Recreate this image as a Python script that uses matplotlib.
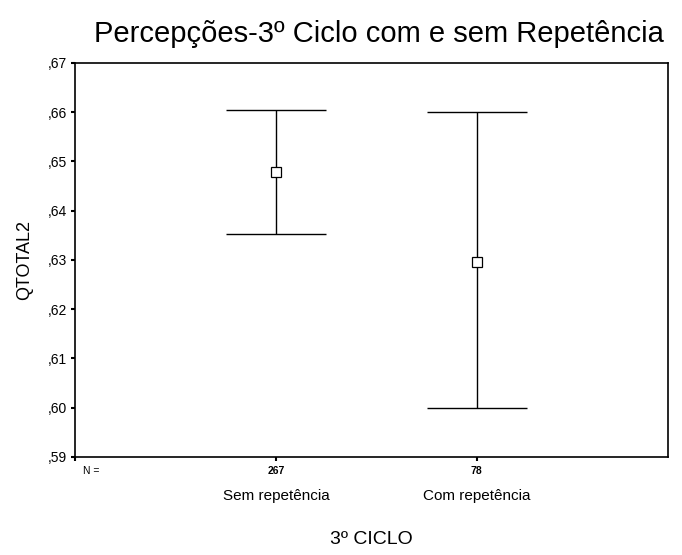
import matplotlib
matplotlib.use("Agg")
import matplotlib.pyplot as plt
import numpy as np

plt.rcParams['font.family'] = ['Liberation Sans', 'DejaVu Sans']

categories = ["Sem repetência", "Com repetência"]
n_values = ["267", "78"]
means = [0.6478, 0.6295]
upper = [0.6605, 0.6600]
lower = [0.6352, 0.5999]
yticks = [0.59, 0.60, 0.61, 0.62, 0.63, 0.64, 0.65, 0.66, 0.67]
ytick_labels = [",59", ",60", ",61", ",62", ",63", ",64", ",65", ",66", ",67"]

fig = plt.figure(figsize=(6.82, 5.55), dpi=100)
ax = fig.add_axes([0.110, 0.1766, 0.869, 0.710])

x = np.arange(1, len(categories) + 1)
means_a = np.array(means)
yerr = np.vstack([means_a - np.array(lower), np.array(upper) - means_a])
ax.errorbar(x, means_a, yerr=yerr, fmt='none', ecolor='black', elinewidth=1.0,
            capsize=36, capthick=1.0)
ax.plot(x, means_a, linestyle='none', marker='s', markersize=7,
        markerfacecolor='white', markeredgecolor='black', markeredgewidth=0.9)

ax.set_xlim(0, 2.95)
ax.set_ylim(0.59, 0.67)
ax.set_yticks(yticks)
ax.set_yticklabels(ytick_labels, fontsize=10)
ax.set_xticks(list(x) + [0])
ax.set_xticklabels([])
ax.tick_params(axis='both', direction='out', length=3, width=1.5, colors='black')
ax.tick_params(axis='y', pad=3)
for s in ax.spines.values():
    s.set_linewidth(1.2)

for xi, n, c in zip(x, n_values, categories):
    ax.text(xi, -0.035, n, transform=ax.get_xaxis_transform(), ha='center',
            va='center', fontsize=7.5, fontweight='bold')
    ax.text(xi, -0.1, c, transform=ax.get_xaxis_transform(), ha='center',
            va='center', fontsize=11)
ax.text(0.08, -0.035, "N =", transform=ax.get_xaxis_transform(), ha='center',
        va='center', fontsize=7.5)

ax.set_ylabel("QTOTAL2", fontsize=13, labelpad=10)
fig.text(0.544, 1 - 540 / 555, "3º CICLO", ha='center', va='center', fontsize=14)
fig.text(0.555, 1 - 34 / 555, "Percepções-3º Ciclo com e sem Repetência",
         ha='center', va='center', fontsize=21)

fig.savefig("out.png", dpi=100)
